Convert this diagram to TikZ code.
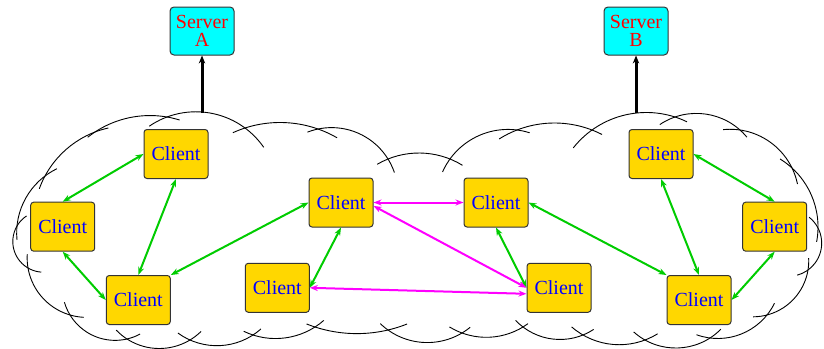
\documentclass[tikz,border=0pt]{standalone}
\usepackage{fontspec}
\setmainfont{Liberation Serif}
\usetikzlibrary{arrows.meta,calc}

\definecolor{boxgold}{HTML}{FFD700}
\definecolor{servercyan}{HTML}{00FFFF}
\definecolor{linkgreen}{HTML}{00CC00}
\definecolor{linkmagenta}{HTML}{FF00FF}
\definecolor{labelblue}{HTML}{0000FF}
\definecolor{labelred}{HTML}{FF0000}
\definecolor{edgegray}{HTML}{333333}

% one bump of the cloud: circular arc from #1 to #2 (clockwise order),
% bulging outwards by #3, running on #4 before #1 and #5 past #2
% (all lengths in picture units, 1 unit = 0.5pt)
\newcommand\puff[5]{%
  \draw[cloudline] let \p1=(#1), \p2=(#2),
      \n1={veclen(\x2-\x1,\y2-\y1)/2},
      \n2={atan2(\y2-\y1,\x2-\x1)},
      \n3={(\n1*\n1+(#3/2)*(#3/2))/(#3)},
      \n4={asin(\n1/\n3)},
      \n5={\n3-#3/2},
      \n6={(#4/2)/\n3*57.2958},
      \n7={(#5/2)/\n3*57.2958}
    in ($(\p1)!0.5!(\p2)$) ++(\n2-90:\n5) ++(\n2+90+\n4+\n6:\n3)
       arc[start angle=\n2+90+\n4+\n6, end angle=\n2+90-\n4-\n7, radius=\n3];%
}

\begin{document}
\begin{tikzpicture}[x=0.5pt,y=-0.5pt,
  cloudline/.style={line width=0.45pt,black},
  client/.style={draw=edgegray,line width=0.5pt,fill=boxgold,rounded corners=1.5pt,
    minimum width=32pt,minimum height=24.5pt,inner sep=0pt,text=labelblue,
    font=\fontsize{10}{12}\selectfont},
  server/.style={draw=edgegray,line width=0.5pt,fill=servercyan,rounded corners=2pt,
    minimum width=32pt,minimum height=24pt,inner sep=0pt,text=labelred,align=center,
    font=\fontsize{10}{8.7}\selectfont},
  peer/.style={line width=1pt,
    {Stealth[length=4pt,width=3pt]}-{Stealth[length=4pt,width=3pt]}},
  greenlink/.style={peer,draw=linkgreen},
  pinklink/.style={peer,draw=linkmagenta},
  uplink/.style={line width=1.5pt,black,-{Stealth[length=4pt,width=3.2pt]}}
]
\clip (0,0) rectangle (824,348);

% cloud outline, clockwise from the left edge
\puff{17,226}{45,176}{6}{14}{14}
\puff{45,176}{95,132}{6}{14}{14}
\puff{95,132}{167,117}{7}{9}{13}
\puff{167,117}{245,128}{10}{20}{27}
\puff{245,128}{318,129}{6}{13}{21}
\puff{318,129}{388,159}{12}{11}{15}
\puff{388,159}{450,159}{6}{12}{14}
\puff{450,159}{517,130}{10}{15}{13}
\puff{517,130}{592,130}{7}{20}{11}
\puff{592,130}{675,117}{10}{26}{13}
\puff{675,117}{740,130}{9}{17}{10}
\puff{740,130}{792,168}{8}{17}{17}
\puff{792,168}{818,228}{7}{15}{14}
\puff{818,228}{808,270}{8}{14}{12}
\puff{808,270}{767,315}{9}{12}{14}
\puff{767,315}{710,338}{8}{14}{14}
\puff{710,338}{645,340}{9}{14}{14}
\puff{645,340}{583,335}{7}{14}{14}
\puff{583,335}{523,327}{8}{12}{10}
\puff{523,327}{462,333}{7}{6}{14}
\puff{462,333}{388,330}{11}{10}{10}
\puff{388,330}{315,327}{5}{20}{9}
\puff{315,327}{253,335}{7}{11}{10}
\puff{253,335}{190,340}{8}{10}{14}
\puff{190,340}{127,339}{9}{14}{14}
\puff{127,339}{70,315}{10}{14}{14}
\puff{70,315}{28,268}{9}{14}{14}
\puff{28,268}{17,226}{9}{14}{14}

% servers
\node[server] (sa) at (202,31) {Server\\A};
\node[server] (sb) at (636,31) {Server\\B};

% clients
\node[client] (lt) at (176,154) {Client};
\node[client] (ll) at (62.7,226.7) {Client};
\node[client] (lb) at (138.3,300) {Client};
\node[client] (m1) at (341,202.5) {Client};
\node[client] (m2) at (277.3,287.8) {Client};
\node[client] (m3) at (496,202.5) {Client};
\node[client] (m4) at (559,287.8) {Client};
\node[client] (rt) at (661,154) {Client};
\node[client] (rr) at (774.7,226.7) {Client};
\node[client] (rb) at (699,300) {Client};

% links from the cloud to the servers
\coordinate (ta) at (202,113);
\coordinate (tb) at (636,113);
\draw[uplink] (ta) -- (sa.south);
\draw[uplink] (tb) -- (sb.south);

% green peer links
\draw[greenlink] (lt.west) -- (ll.north);
\draw[greenlink] (lt.south) -- (lb.north);
\draw[greenlink] (ll.south) -- (lb.west);
\draw[greenlink] (m1.west) -- (lb.north east);
\draw[greenlink] (m1.south) -- (m2.east);
\draw[greenlink] (m3.south) -- (m4.west);
\draw[greenlink] (m3.east) -- (rb.north west);
\draw[greenlink] (rt.south) -- (rb.north);
\draw[greenlink] (rt.east) -- (rr.north);
\draw[greenlink] (rr.south) -- (rb.east);

% magenta peer links
\draw[pinklink] (m1.east) -- (m3.west);
\draw[pinklink] ([yshift=-1.7pt]m1.east) -- (m4.west);
\draw[pinklink] (m2.east) -- ([yshift=-3pt]m4.west);
\end{tikzpicture}
\end{document}
